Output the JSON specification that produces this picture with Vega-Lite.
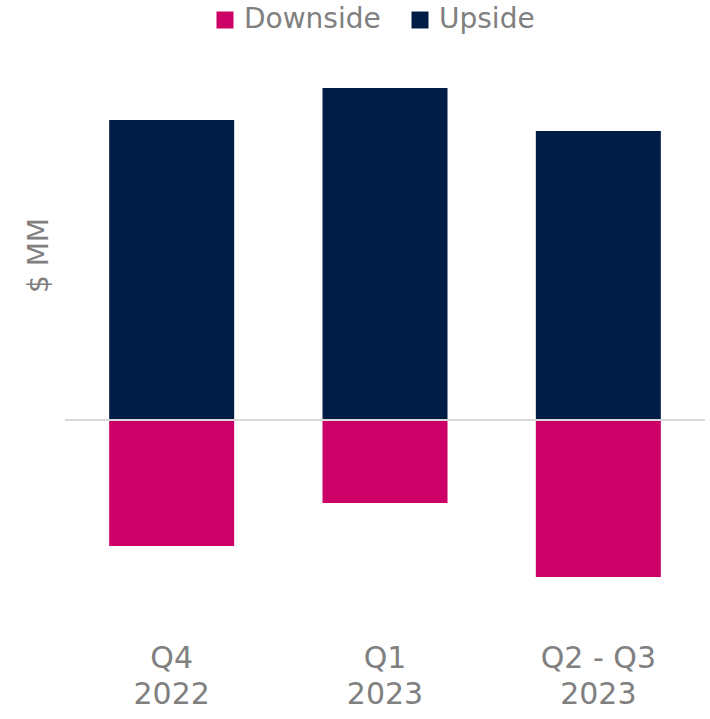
{
  "$schema": "https://vega.github.io/schema/vega-lite/v6.json",
  "autosize": "none",
  "padding": {"top": 40, "left": 65, "right": 5, "bottom": 99},
  "width": 640,
  "height": 580,
  "background": "white",
  "config": {
    "view": {"stroke": null},
    "font": "Verdana, DejaVu Sans",
    "axis": {"labelFont": "Verdana, DejaVu Sans", "titleFont": "Verdana, DejaVu Sans"},
    "legend": {"labelFont": "Verdana, DejaVu Sans"}
  },
  "data": {
    "values": [
      {"period": "Q4 2022", "type": "Upside", "value": 300},
      {"period": "Q4 2022", "type": "Downside", "value": -126},
      {"period": "Q1 2023", "type": "Upside", "value": 332},
      {"period": "Q1 2023", "type": "Downside", "value": -83},
      {"period": "Q2 - Q3 2023", "type": "Upside", "value": 289},
      {"period": "Q2 - Q3 2023", "type": "Downside", "value": -157}
    ]
  },
  "layer": [
    {
      "mark": {"type": "bar"},
      "encoding": {
        "x": {
          "field": "period",
          "type": "nominal",
          "sort": null,
          "scale": {"paddingInner": 0.414, "paddingOuter": 0.207},
          "axis": {
            "title": null,
            "orient": "bottom",
            "ticks": false,
            "domain": false,
            "labelAngle": 0,
            "labelFontSize": 30,
            "labelColor": "#808080",
            "labelPadding": 23,
            "labelLineHeight": 36,
            "labelBaseline": "top",
            "labelExpr": "[slice(datum.label, 0, lastindexof(datum.label, ' ')), slice(datum.label, lastindexof(datum.label, ' ') + 1)]"
          }
        },
        "y": {
          "field": "value",
          "type": "quantitative",
          "stack": null,
          "scale": {"domain": [-200, 380], "nice": false, "zero": false},
          "axis": {
            "title": "$ MM",
            "labels": false,
            "ticks": false,
            "domain": false,
            "grid": false,
            "titleFontSize": 28,
            "titleFontWeight": "normal",
            "titleColor": "#808080",
            "titleAngle": -90,
            "titleX": -26,
            "titleY": 215,
            "titleAlign": "center",
            "titleBaseline": "middle"
          }
        },
        "color": {
          "field": "type",
          "type": "nominal",
          "scale": {"domain": ["Downside", "Upside"], "range": ["#CC0066", "#001E45"]},
          "legend": {
            "title": null,
            "orient": "none",
            "legendX": 146,
            "legendY": -34,
            "direction": "horizontal",
            "symbolType": "square",
            "symbolSize": 289,
            "symbolStrokeWidth": 0,
            "labelFontSize": 28,
            "labelColor": "#808080",
            "labelOffset": 5,
            "columnPadding": 25
          }
        }
      }
    },
    {
      "mark": {"type": "rule", "color": "#d9d9d9", "strokeWidth": 2},
      "encoding": {"y": {"datum": 0}}
    }
  ]
}
